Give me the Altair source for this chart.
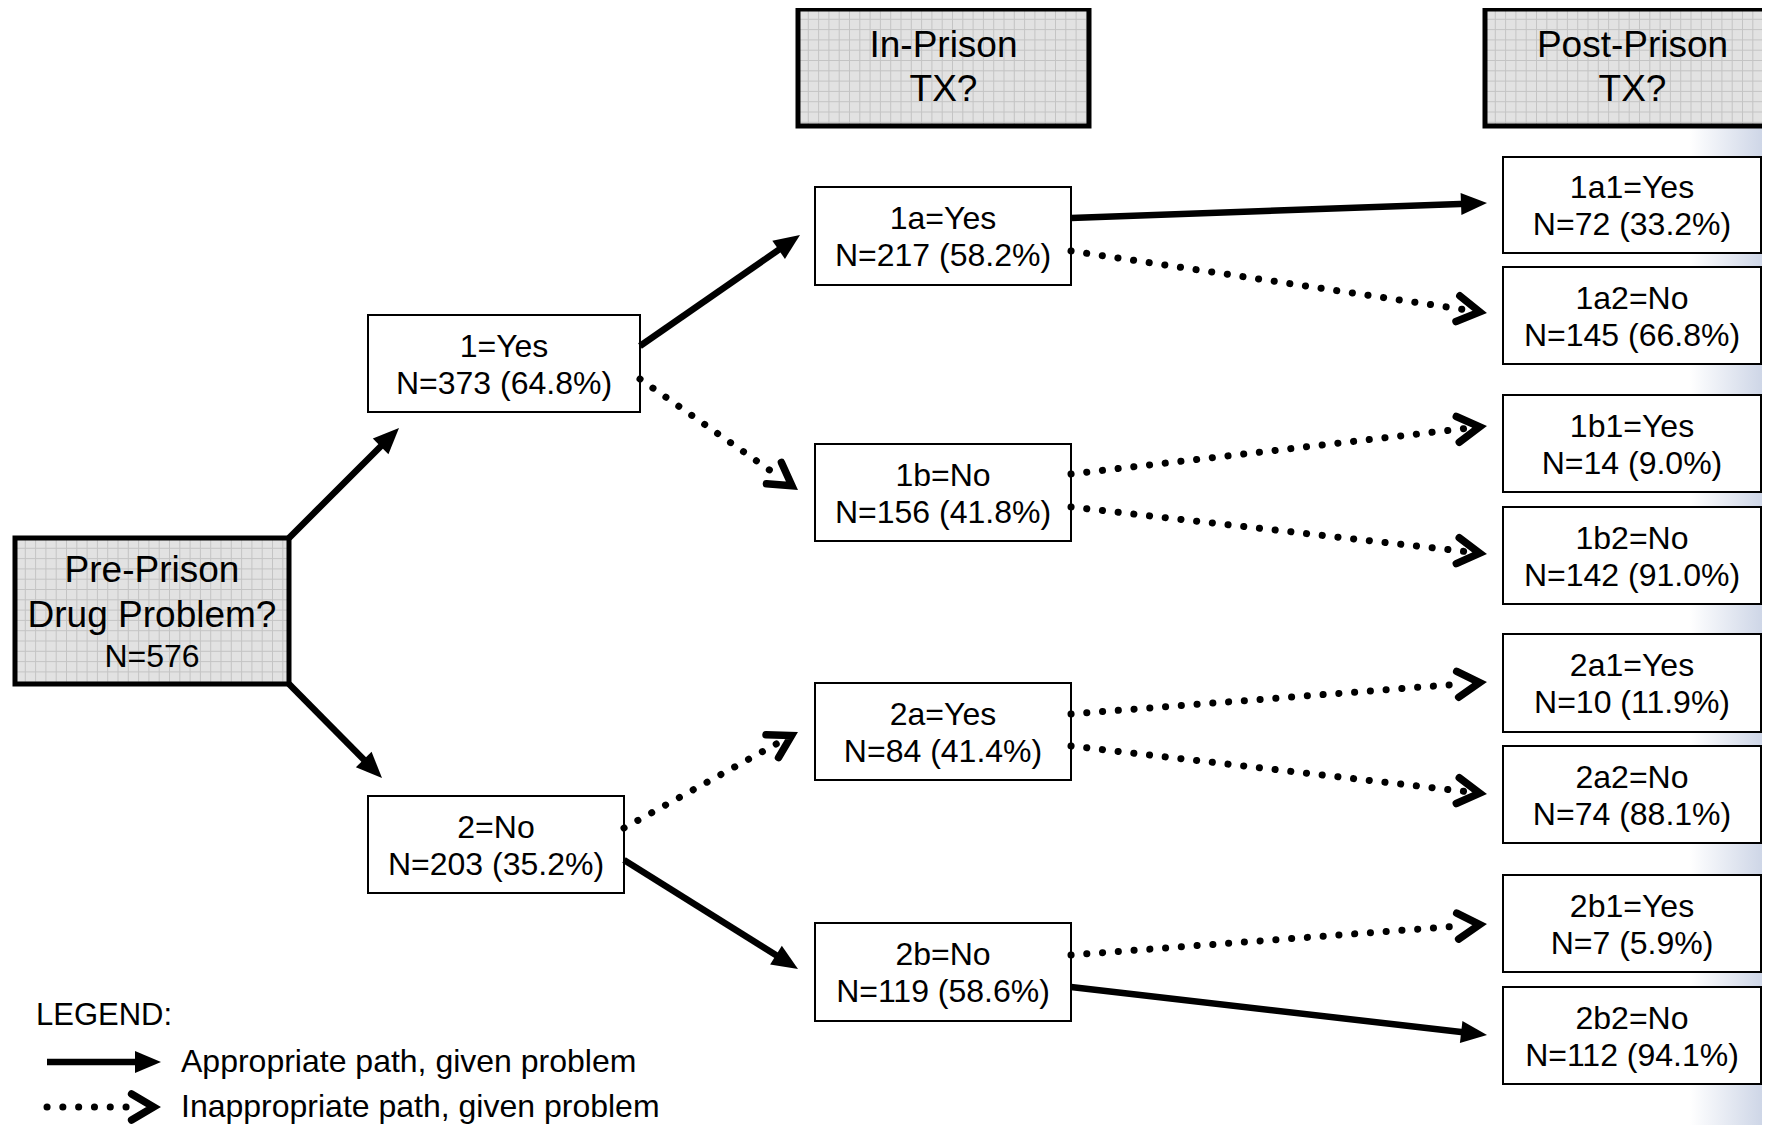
import numpy as np
import pandas as pd
import altair as alt

FONT = "Liberation Sans"

# ---------------- data ----------------
total_n = 576
node_ids = ["1", "2", "1a", "1b", "2a", "2b",
            "1a1", "1a2", "1b1", "1b2", "2a1", "2a2", "2b1", "2b2"]
node_answers = ["Yes", "No", "Yes", "No", "Yes", "No",
                "Yes", "No", "Yes", "No", "Yes", "No", "Yes", "No"]
node_n = [373, 203, 217, 156, 84, 119, 72, 145, 14, 142, 10, 74, 7, 112]
node_pct = [64.8, 35.2, 58.2, 41.8, 41.4, 58.6, 33.2, 66.8, 9.0, 91.0, 11.9, 88.1, 5.9, 94.1]

header_titles = [["Pre-Prison", "Drug Problem?"], ["In-Prison", "TX?"], ["Post-Prison", "TX?"]]
legend_title = "LEGEND:"
legend_labels = ["Appropriate path, given problem", "Inappropriate path, given problem"]

edge_from = ["pre", "pre", "1", "1", "2", "2", "1a", "1a", "1b", "1b", "2a", "2a", "2b", "2b"]
edge_to = ["1", "2", "1a", "1b", "2a", "2b", "1a1", "1a2", "1b1", "1b2", "2a1", "2a2", "2b1", "2b2"]
edge_kind = ["appropriate", "appropriate", "appropriate", "inappropriate",
             "inappropriate", "appropriate", "appropriate", "inappropriate",
             "inappropriate", "inappropriate", "inappropriate", "inappropriate",
             "inappropriate", "appropriate"]

# ---------------- layout (pixel space of the picture) ----------------
W, H = 1754, 1117
X0, Y0 = 8, 8

node_box = {  # x0, x1, y0, y1
    "1": (368, 640, 315, 412), "2": (368, 624, 796, 893),
    "1a": (815, 1071, 187, 285), "1b": (815, 1071, 444, 541),
    "2a": (815, 1071, 683, 780), "2b": (815, 1071, 923, 1021),
    "1a1": (1503, 1761, 157, 253), "1a2": (1503, 1761, 267, 364),
    "1b1": (1503, 1761, 395, 492), "1b2": (1503, 1761, 507, 604),
    "2a1": (1503, 1761, 634, 732), "2a2": (1503, 1761, 746, 843),
    "2b1": (1503, 1761, 875, 972), "2b2": (1503, 1761, 987, 1084),
}
header_box = [(15, 289, 538, 684), (798, 1089, 9, 126), (1485, 1780, 9, 126)]
header_text_y = [[571, 616], [46, 90], [46, 90]]
pre_n_y = 657

edge_pts = {  # start x, start y, tip x, tip y
    ("pre", "1"): (289, 538, 399, 428), ("pre", "2"): (289, 684, 382, 778),
    ("1", "1a"): (640, 346, 800, 235), ("1", "1b"): (640, 379, 798, 490),
    ("2", "2a"): (624, 828, 798, 732), ("2", "2b"): (624, 860, 798, 969),
    ("1a", "1a1"): (1071, 218, 1487, 203), ("1a", "1a2"): (1071, 251, 1487, 313),
    ("1b", "1b1"): (1071, 474, 1487, 426), ("1b", "1b2"): (1071, 507, 1487, 554),
    ("2a", "2a1"): (1071, 714, 1487, 682), ("2a", "2a2"): (1071, 746, 1487, 794),
    ("2b", "2b1"): (1071, 955, 1487, 924), ("2b", "2b2"): (1071, 987, 1487, 1035),
}
legend_title_pos = (36, 1016)
legend_arrow_pts = [(47, 1062, 161, 1062), (47, 1107, 161, 1107)]
legend_text_x = 181

TRI_R = 13
CHEV_R = 20
TRI_PATH = "M1,0 L-1,-0.85 L-1,0.85 Z"
CHEV_PATH = "M-0.55,-0.65 L0.55,0 L-0.55,0.65"
CHEV_TIP = 0.55 * CHEV_R + 7.4

BOX_FS = 32
HDR_FS = 37
LEG_FS = 32

xs = alt.Scale(domain=[X0, X0 + W], nice=False, zero=False)
ys = alt.Scale(domain=[Y0, Y0 + H], nice=False, zero=False, reverse=True)


def X(f="x"):
    return alt.X(f"{f}:Q", scale=xs, axis=None)


def Y(f="y"):
    return alt.Y(f"{f}:Q", scale=ys, axis=None)


# ---------------- tables ----------------
bg_df = pd.DataFrame({"x": [1690], "x2": [1780], "y": [0], "y2": [1140]})

hdr_df = pd.DataFrame(header_box, columns=["x", "x2", "y", "y2"])

grid_rows = []
for (a, b, c, d) in header_box:
    for gx in np.arange(a + 10.3, min(b, X0 + W), 10.3):
        grid_rows.append({"x": gx, "x2": gx, "y": c, "y2": d})
    for gy in np.arange(c + 10.3, d, 10.3):
        grid_rows.append({"x": a, "x2": min(b, X0 + W), "y": gy, "y2": gy})
grid_df = pd.DataFrame(grid_rows)

node_df = pd.DataFrame([{"x": node_box[k][0], "x2": node_box[k][1],
                         "y": node_box[k][2], "y2": node_box[k][3]} for k in node_ids])

text_rows = []
for k, ans, n, p in zip(node_ids, node_answers, node_n, node_pct):
    a, b, c, d = node_box[k]
    cx, cy = (a + b) / 2, (c + d) / 2
    text_rows.append({"x": cx, "y": cy - 17, "t": f"{k}={ans}", "fs": BOX_FS, "al": "center"})
    text_rows.append({"x": cx, "y": cy + 20, "t": f"N={n} ({p:.1f}%)", "fs": BOX_FS, "al": "center"})
for (a, b, c, d), lines, ly in zip(header_box, header_titles, header_text_y):
    cx = (a + b) / 2
    for line, yy in zip(lines, ly):
        text_rows.append({"x": cx, "y": yy, "t": line, "fs": HDR_FS, "al": "center"})
text_rows.append({"x": (header_box[0][0] + header_box[0][1]) / 2, "y": pre_n_y,
                  "t": f"N={total_n}", "fs": BOX_FS, "al": "center"})
text_rows.append({"x": legend_title_pos[0], "y": legend_title_pos[1], "t": legend_title,
                  "fs": 31, "al": "left"})
for (sx, sy, tx, ty), lab in zip(legend_arrow_pts, legend_labels):
    text_rows.append({"x": legend_text_x, "y": sy, "t": lab, "fs": LEG_FS, "al": "left"})
text_df = pd.DataFrame(text_rows)
text_c = text_df[text_df.al == "center"]
text_l = text_df[text_df.al == "left"]

arrow_rows = []
for f, t, kd in zip(edge_from, edge_to, edge_kind):
    sx, sy, tx, ty = edge_pts[(f, t)]
    arrow_rows.append({"sx": sx, "sy": sy, "tx": tx, "ty": ty, "kind": kd})
for (sx, sy, tx, ty), kd in zip(legend_arrow_pts, ["appropriate", "inappropriate"]):
    arrow_rows.append({"sx": sx, "sy": sy, "tx": tx, "ty": ty, "kind": kd})
arr = pd.DataFrame(arrow_rows)
dx, dy = arr.tx - arr.sx, arr.ty - arr.sy
L = np.hypot(dx, dy)
ux, uy = dx / L, dy / L
arr["ang"] = (np.degrees(np.arctan2(dy, dx)) + 360) % 360
back = np.where(arr.kind == "appropriate", TRI_R, CHEV_TIP)
arr["hx"] = arr.tx - back * ux
arr["hy"] = arr.ty - back * uy
arr["ex"] = np.where(arr.kind == "appropriate", arr.hx, arr.hx - 4 * ux)
arr["ey"] = np.where(arr.kind == "appropriate", arr.hy, arr.hy - 4 * uy)
solid = arr[arr.kind == "appropriate"]
dotted = arr[arr.kind == "inappropriate"]

# ---------------- marks ----------------
grad = alt.LinearGradient(
    gradient="linear",
    stops=[alt.GradientStop(offset=0, color="#ffffff"),
           alt.GradientStop(offset=1, color="#c2cce1")],
    x1=0, x2=1, y1=0, y2=0)

bg = alt.Chart(bg_df).mark_rect(color=grad).encode(x=X(), x2="x2:Q", y=Y(), y2="y2:Q")

hdr_fill = alt.Chart(hdr_df).mark_rect(fill="#e2e2e2").encode(x=X(), x2="x2:Q", y=Y(), y2="y2:Q")
grid = alt.Chart(grid_df).mark_rule(color="#c4c4c4", strokeWidth=1).encode(
    x=X(), x2="x2:Q", y=Y(), y2="y2:Q")
hdr_stroke = alt.Chart(hdr_df).mark_rect(fillOpacity=0, stroke="black", strokeWidth=5).encode(
    x=X(), x2="x2:Q", y=Y(), y2="y2:Q")

nodes = alt.Chart(node_df).mark_rect(fill="white", stroke="black", strokeWidth=2).encode(
    x=X(), x2="x2:Q", y=Y(), y2="y2:Q")

txt_c = alt.Chart(text_c).mark_text(font=FONT, color="black", align="center",
                                    baseline="middle").encode(
    x=X(), y=Y(), text="t:N", size=alt.Size("fs:Q", scale=None))
txt_l = alt.Chart(text_l).mark_text(font=FONT, color="black", align="left",
                                    baseline="middle").encode(
    x=X(), y=Y(), text="t:N", size=alt.Size("fs:Q", scale=None))

solid_lines = alt.Chart(solid).mark_rule(color="black", strokeWidth=6.5, strokeCap="butt").encode(
    x=X("sx"), y=Y("sy"), x2="ex:Q", y2="ey:Q")
dotted_lines = alt.Chart(dotted).mark_rule(color="black", strokeWidth=7, strokeCap="round",
                                           strokeDash=[0.1, 15.7]).encode(
    x=X("sx"), y=Y("sy"), x2="ex:Q", y2="ey:Q")

tri_heads = alt.Chart(solid).mark_point(shape=TRI_PATH, filled=True, color="black", opacity=1,
                                        size=4 * TRI_R ** 2).encode(
    x=X("hx"), y=Y("hy"), angle=alt.Angle("ang:Q", scale=None))
chev_heads = alt.Chart(dotted).mark_point(shape=CHEV_PATH, filled=False, color="black", opacity=1,
                                          strokeWidth=7.5, strokeCap="round", strokeJoin="miter",
                                          size=4 * CHEV_R ** 2).encode(
    x=X("hx"), y=Y("hy"), angle=alt.Angle("ang:Q", scale=None))

chart = alt.layer(
    bg, hdr_fill, grid, hdr_stroke, nodes, solid_lines, dotted_lines,
    tri_heads, chev_heads, txt_c, txt_l
).properties(
    width=W, height=H, padding=0,
    autosize=alt.AutoSizeParams(type="none"),
    background="white",
).configure_view(strokeWidth=0)

chart.save("out.html", embed_options={"renderer": "svg", "actions": False})
